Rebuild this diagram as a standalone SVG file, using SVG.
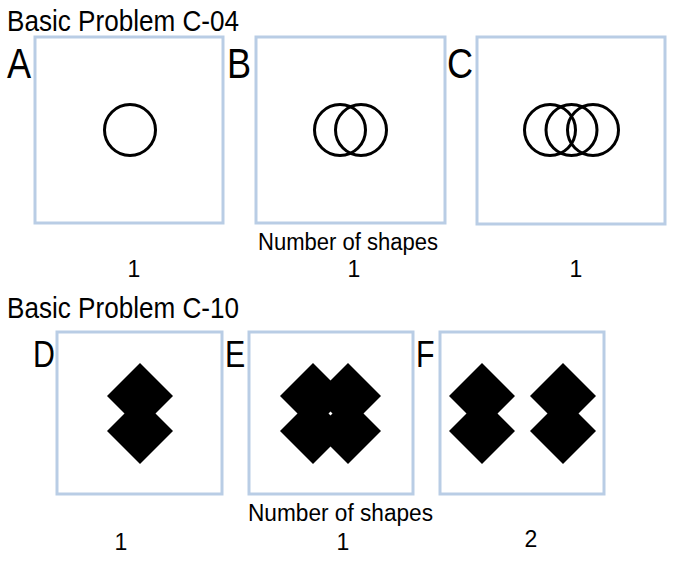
<svg xmlns="http://www.w3.org/2000/svg" width="677" height="563" viewBox="0 0 677 563">
  <style>
    .box{fill:#ffffff;stroke:#b9cde5;stroke-width:3}
    .ring{fill:none;stroke:#000000;stroke-width:3}
    .title{font-family:"Liberation Sans",Arial,sans-serif;font-size:29px;fill:#000}
    .lbl1{font-family:"Liberation Sans",Arial,sans-serif;font-size:42px;fill:#000}
    .lbl2{font-family:"Liberation Sans",Arial,sans-serif;font-size:37px;fill:#000}
    .cap{font-family:"Liberation Sans",Arial,sans-serif;font-size:23px;fill:#000}
    .num{font-family:"Liberation Sans",Arial,sans-serif;font-size:23px;fill:#000;text-anchor:middle}
  </style>
  <defs>
    <path id="pair" d="M0,-50.5 L33,-17.5 L15.5,0 L33,17.5 L0,50.5 L-33,17.5 L-15.5,0 L-33,-17.5 Z" fill="#000"/>
    <path id="dia" d="M0,-33 L33,0 L0,33 L-33,0 Z" fill="#000"/>
  </defs>
  <rect width="677" height="563" fill="#ffffff"/>

  <text class="title" x="7" y="31" textLength="232" lengthAdjust="spacingAndGlyphs">Basic Problem C-04</text>

  <g id="panelA">
    <rect class="box" x="35" y="37" width="188" height="186"/>
    <circle class="ring" cx="130" cy="130" r="25.5"/>
    <text class="lbl1" transform="translate(7,78) scale(0.86,1)">A</text>
  </g>
  <g id="panelB">
    <rect class="box" x="256" y="37" width="189" height="186"/>
    <circle class="ring" cx="340" cy="130" r="25.5"/>
    <circle class="ring" cx="361" cy="130" r="25.5"/>
    <text class="lbl1" transform="translate(227,78) scale(0.86,1)">B</text>
  </g>
  <g id="panelC">
    <rect class="box" x="477" y="37" width="188" height="187"/>
    <circle class="ring" cx="550" cy="130" r="25.5"/>
    <circle class="ring" cx="571.5" cy="130" r="25.5"/>
    <circle class="ring" cx="593" cy="130" r="25.5"/>
    <text class="lbl1" transform="translate(447,78) scale(0.86,1)">C</text>
  </g>

  <text class="cap" x="258" y="250" textLength="180" lengthAdjust="spacingAndGlyphs">Number of shapes</text>
  <text class="num" x="134" y="277">1</text>
  <text class="num" x="354" y="277">1</text>
  <text class="num" x="576" y="277">1</text>

  <text class="title" x="7" y="318" textLength="232" lengthAdjust="spacingAndGlyphs">Basic Problem C-10</text>

  <g id="panelD">
    <rect class="box" x="57" y="332" width="165" height="162"/>
    <use href="#pair" x="140" y="413.5"/>
    <text class="lbl2" transform="translate(33,367) scale(0.82,1)">D</text>
  </g>
  <g id="panelE">
    <rect class="box" x="249" y="332" width="164" height="162"/>
    <use href="#dia" x="313" y="396"/>
    <use href="#dia" x="348" y="396"/>
    <use href="#dia" x="313" y="431"/>
    <use href="#dia" x="348" y="431"/>
    <text class="lbl2" transform="translate(225,367) scale(0.82,1)">E</text>
  </g>
  <g id="panelF">
    <rect class="box" x="440" y="332" width="164" height="162"/>
    <use href="#pair" x="482" y="413.5"/>
    <use href="#pair" x="563" y="413.5"/>
    <text class="lbl2" transform="translate(416,367) scale(0.82,1)">F</text>
  </g>

  <text class="cap" x="248" y="521" textLength="185" lengthAdjust="spacingAndGlyphs">Number of shapes</text>
  <text class="num" x="121" y="550">1</text>
  <text class="num" x="343" y="550">1</text>
  <text class="num" x="531" y="547">2</text>
</svg>
